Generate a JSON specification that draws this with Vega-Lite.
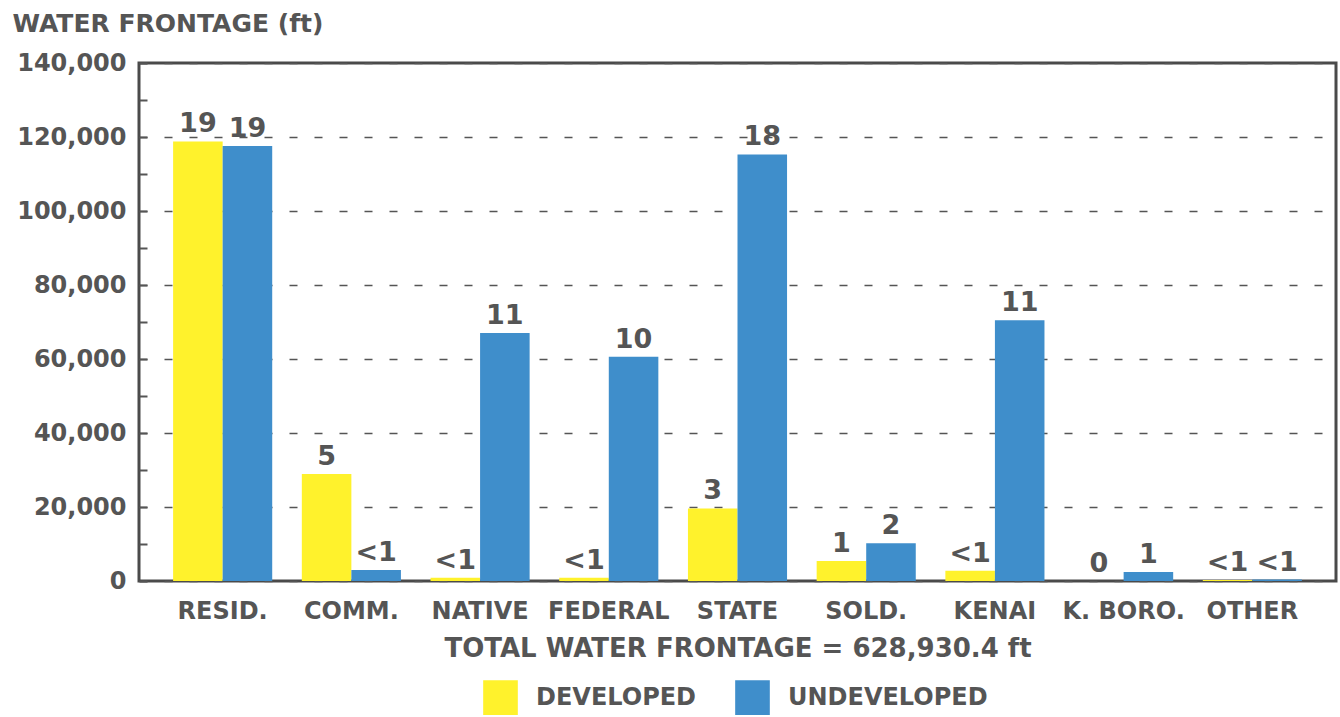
{
  "$schema": "https://vega.github.io/schema/vega-lite/v6.json",
  "autosize": "none",
  "width": 1197,
  "height": 518,
  "padding": {"left": 139, "top": 63, "right": 4, "bottom": 136},
  "background": "white",
  "config": {
    "font": "DejaVu Sans",
    "view": {"stroke": "#4a4a4a", "strokeWidth": 3},
    "axis": {"labelColor": "#555555", "titleColor": "#555555", "labelFont": "DejaVu Sans", "titleFont": "DejaVu Sans", "labelFontWeight": "bold"},
    "legend": {"labelColor": "#555555", "labelFont": "DejaVu Sans"}
  },
  "data": {
    "values": [
      {"owner": "RESID.", "status": "DEVELOPED", "frontage": 118800, "pct": "19"},
      {"owner": "RESID.", "status": "UNDEVELOPED", "frontage": 117550, "pct": "19"},
      {"owner": "COMM.", "status": "DEVELOPED", "frontage": 28900, "pct": "5"},
      {"owner": "COMM.", "status": "UNDEVELOPED", "frontage": 3000, "pct": "<1"},
      {"owner": "NATIVE", "status": "DEVELOPED", "frontage": 900, "pct": "<1"},
      {"owner": "NATIVE", "status": "UNDEVELOPED", "frontage": 67000, "pct": "11"},
      {"owner": "FEDERAL", "status": "DEVELOPED", "frontage": 900, "pct": "<1"},
      {"owner": "FEDERAL", "status": "UNDEVELOPED", "frontage": 60600, "pct": "10"},
      {"owner": "STATE", "status": "DEVELOPED", "frontage": 19600, "pct": "3"},
      {"owner": "STATE", "status": "UNDEVELOPED", "frontage": 115300, "pct": "18"},
      {"owner": "SOLD.", "status": "DEVELOPED", "frontage": 5400, "pct": "1"},
      {"owner": "SOLD.", "status": "UNDEVELOPED", "frontage": 10200, "pct": "2"},
      {"owner": "KENAI", "status": "DEVELOPED", "frontage": 2800, "pct": "<1"},
      {"owner": "KENAI", "status": "UNDEVELOPED", "frontage": 70500, "pct": "11"},
      {"owner": "K. BORO.", "status": "DEVELOPED", "frontage": 0, "pct": "0"},
      {"owner": "K. BORO.", "status": "UNDEVELOPED", "frontage": 2400, "pct": "1"},
      {"owner": "OTHER", "status": "DEVELOPED", "frontage": 300, "pct": "<1"},
      {"owner": "OTHER", "status": "UNDEVELOPED", "frontage": 400, "pct": "<1"}
    ]
  },
  "encoding": {
    "x": {
      "field": "owner",
      "type": "nominal",
      "sort": null,
      "scale": {"paddingInner": 0.23, "paddingOuter": 0.265},
      "axis": {
        "labelAngle": 0,
        "labelFontSize": 24,
        "labelPadding": 18,
        "ticks": false,
        "domain": false,
        "title": "TOTAL WATER FRONTAGE = 628,930.4 ft",
        "titleFontSize": 26,
        "titleFontWeight": "bold",
        "titlePadding": 12
      }
    },
    "xOffset": {
      "field": "status",
      "type": "nominal",
      "sort": ["DEVELOPED", "UNDEVELOPED"],
      "scale": {"paddingInner": 0, "paddingOuter": 0}
    },
    "y": {
      "field": "frontage",
      "type": "quantitative",
      "scale": {"domain": [0, 140000], "nice": false},
      "axis": {
        "values": [0, 10000, 20000, 30000, 40000, 50000, 60000, 70000, 80000, 90000, 100000, 110000, 120000, 130000, 140000],
        "labelExpr": "datum.value % 20000 === 0 ? format(datum.value, ',') : ''",
        "labelFontSize": 24,
        "labelPadding": 21,
        "tickSize": -8,
        "tickWidth": 2,
        "tickColor": "#555555",
        "domain": false,
        "grid": true,
        "gridColor": "#555555",
        "gridWidth": 1.5,
        "gridDash": [8, 17],
        "gridOpacity": {"condition": {"test": "datum.value % 20000 === 0", "value": 1}, "value": 0},
        "title": "WATER FRONTAGE (ft)",
        "titleAngle": 0,
        "titleAlign": "left",
        "titleBaseline": "middle",
        "titleX": -127,
        "titleY": -40,
        "titleFontSize": 25,
        "titleFontWeight": "bold"
      }
    }
  },
  "layer": [
    {
      "mark": {"type": "bar"},
      "encoding": {
        "color": {
          "field": "status",
          "type": "nominal",
          "scale": {"domain": ["DEVELOPED", "UNDEVELOPED"], "range": ["#FFF22C", "#3F8ECB"]},
          "legend": {
            "title": null,
            "orient": "none",
            "direction": "horizontal",
            "legendX": 344,
            "legendY": 617,
            "symbolType": "square",
            "symbolSize": 1200,
            "symbolStrokeWidth": 0,
            "symbolOpacity": 1,
            "labelFontSize": 24,
            "labelFontWeight": "bold",
            "labelOffset": 18,
            "columnPadding": 38,
            "labelLimit": 400
          }
        }
      }
    },
    {
      "mark": {"type": "text", "baseline": "alphabetic", "align": "center", "dy": -9, "fontSize": 27, "fontWeight": "bold", "color": "#555555", "font": "DejaVu Sans"},
      "encoding": {
        "text": {"field": "pct", "type": "nominal"}
      }
    }
  ]
}
